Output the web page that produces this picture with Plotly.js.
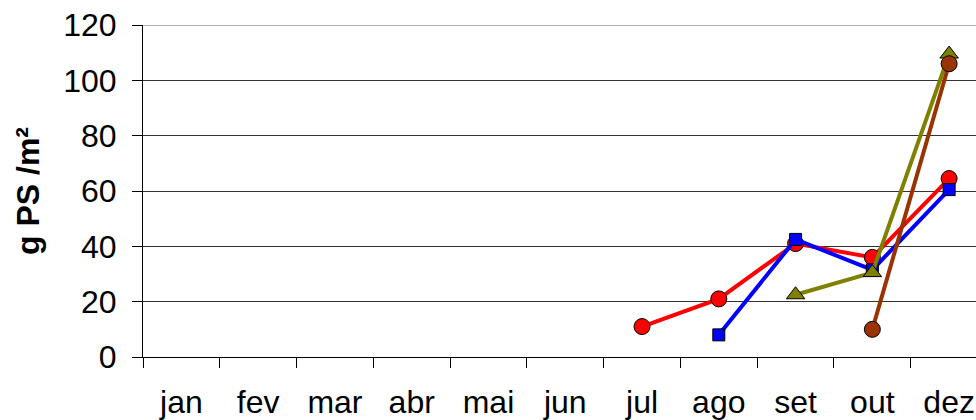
<!DOCTYPE html>
<html>
<head>
<meta charset="utf-8">
<script src="https://cdn.plot.ly/plotly-3.0.1.min.js"></script>
<style>html,body{margin:0;padding:0;background:#fff;}#chart{width:976px;height:420px;}</style>
</head>
<body>
<div id="chart"></div>
<script>
const months = ["jan","fev","mar","abr","mai","jun","jul","ago","set","out","dez"];
const redX = ["jul","ago","set","out","dez"];
const redY = [11, 21, 41, 36, 64.5];
const blueX = ["ago","set","out","dez"];
const blueY = [8, 42.5, 31.5, 60.5];
const oliveX = ["set","out","dez"];
const oliveY = [22.5, 30.5, 109.5];
const brownX = ["out","dez"];
const brownY = [10, 106];

function tr(x, y, color, symbol, size) {
  return {
    x: x, y: y, type: "scatter", mode: "lines+markers",
    line: {color: color, width: 4},
    marker: {color: color, symbol: symbol, size: size, line: {color: "#000", width: 1}},
    cliponaxis: false, hoverinfo: "skip"
  };
}
const data = [
  tr(redX, redY, "#ff0000", "circle", 16),
  tr(blueX, blueY, "#0000ff", "square", 12),
  tr(oliveX, oliveY, "#808000", "triangle-up", 16),
  tr(brownX, brownY, "#993300", "circle", 16)
];
const font = {family: "Liberation Sans, Arial, sans-serif", size: 32, color: "#000"};
const layout = {
  width: 976, height: 420,
  margin: {l: 143, r: 0, t: 25, b: 63, pad: 0},
  paper_bgcolor: "#fff", plot_bgcolor: "#fff",
  showlegend: false,
  font: font,
  xaxis: {
    type: "category", categoryorder: "array", categoryarray: months,
    range: [-0.5, 10.35],
    tickson: "boundaries", ticks: "outside", ticklen: 10, tickcolor: "#000", tickwidth: 1,
    showgrid: false, zeroline: false,
    showline: true, linecolor: "#000", linewidth: 1,
    tickfont: font, ticklabelstandoff: 17
  },
  yaxis: {
    range: [0, 120], dtick: 20, tick0: 0,
    ticks: "outside", ticklen: 10, tickcolor: "#000", tickwidth: 1,
    showgrid: true, gridcolor: "#333", gridwidth: 1,
    zeroline: false, showline: true, linecolor: "#000", linewidth: 1,
    tickfont: font, ticklabelstandoff: 9,
    title: {text: "<b>g PS /m²</b>", font: {family: "Liberation Sans, Arial, sans-serif", size: 32, color: "#000"}, standoff: 14}
  },
  shapes: [{type: "line", xref: "paper", yref: "y", x0: 0, x1: 1, y0: 120, y1: 120,
            line: {color: "#999", width: 1.5}, layer: "above"}]
};
Plotly.newPlot("chart", data, layout, {staticPlot: true});
</script>
</body>
</html>
